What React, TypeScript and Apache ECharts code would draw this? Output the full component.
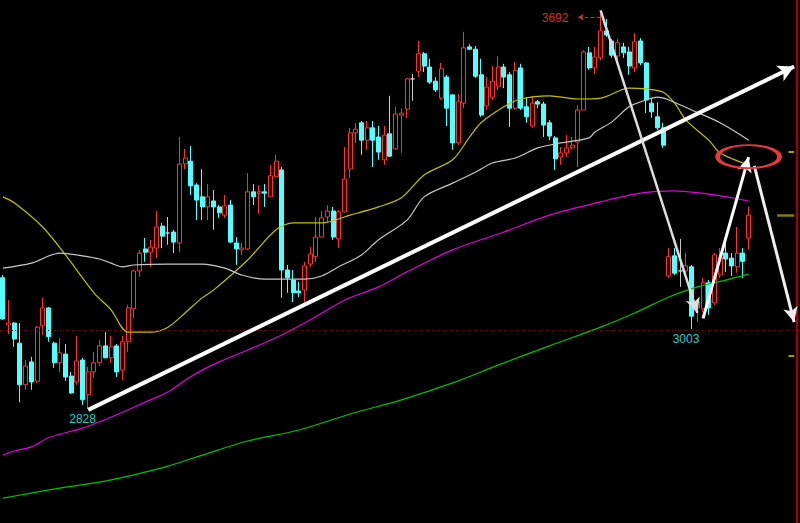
import React, { useEffect, useRef } from "react";
import * as echarts from "echarts";

// 140 trading-day slots (132 candles + empty space on the right)
const categories: string[] = [];
for (let i = 1; i <= 140; i++) categories.push("D" + i);

// [open, close, low, high]
const candles: number[][] = [
  [3115, 3025, 3023, 3121], [3012, 3016, 2992, 3066], [3016, 2981, 2964, 3018], [2972, 2881, 2843, 3016],
  [2881, 2922, 2870, 2935], [2931, 2887, 2870, 2942], [2889, 3007, 2885, 3010], [3010, 3049, 2990, 3071],
  [3049, 2986, 2975, 3051], [2972, 2929, 2918, 2975], [2929, 2951, 2909, 2983], [2948, 2898, 2889, 2970],
  [2900, 2863, 2861, 2909], [2887, 2933, 2881, 2988], [2935, 2848, 2837, 2940], [2859, 2909, 2828, 2920],
  [2909, 2929, 2896, 2953], [2929, 2966, 2922, 2979], [2966, 2940, 2939, 2996], [2940, 2964, 2929, 2988],
  [2966, 2909, 2898, 2970], [2913, 2975, 2891, 2988], [2975, 3049, 2953, 3056], [3047, 3130, 3027, 3132],
  [3130, 3169, 3117, 3176], [3178, 3171, 3150, 3202], [3171, 3182, 3139, 3198], [3180, 3226, 3158, 3261],
  [3228, 3206, 3180, 3235], [3213, 3213, 3187, 3248], [3215, 3193, 3169, 3220], [3191, 3364, 3171, 3423],
  [3364, 3377, 3353, 3397], [3370, 3316, 3296, 3403], [3318, 3285, 3241, 3322], [3292, 3270, 3241, 3353],
  [3270, 3292, 3241, 3320], [3283, 3270, 3220, 3307], [3270, 3257, 3246, 3274], [3252, 3272, 3246, 3296],
  [3274, 3193, 3191, 3285], [3191, 3178, 3143, 3204], [3176, 3180, 3165, 3191], [3178, 3303, 3176, 3344],
  [3303, 3292, 3274, 3320], [3300, 3303, 3255, 3318], [3303, 3300, 3270, 3320], [3292, 3338, 3292, 3362],
  [3336, 3370, 3336, 3384], [3351, 3132, 3071, 3357], [3132, 3115, 3082, 3143], [3110, 3082, 3062, 3132],
  [3086, 3082, 3073, 3106], [3088, 3141, 3062, 3150], [3145, 3167, 3139, 3182], [3161, 3204, 3150, 3248],
  [3204, 3246, 3204, 3261], [3248, 3261, 3237, 3274], [3261, 3204, 3198, 3270], [3200, 3259, 3180, 3263],
  [3259, 3331, 3259, 3401], [3353, 3432, 3333, 3443], [3432, 3440, 3410, 3454], [3454, 3416, 3384, 3458],
  [3416, 3443, 3395, 3458], [3443, 3416, 3357, 3458], [3423, 3390, 3373, 3447], [3373, 3427, 3362, 3447],
  [3430, 3381, 3379, 3513], [3397, 3473, 3395, 3489], [3471, 3475, 3388, 3486], [3484, 3550, 3464, 3552],
  [3550, 3550, 3502, 3561], [3567, 3605, 3554, 3633], [3605, 3578, 3565, 3609], [3576, 3543, 3539, 3594],
  [3545, 3526, 3521, 3554], [3508, 3572, 3504, 3585], [3554, 3486, 3447, 3559], [3515, 3410, 3395, 3517],
  [3410, 3500, 3405, 3517], [3497, 3618, 3486, 3653], [3620, 3615, 3613, 3626], [3615, 3556, 3552, 3622],
  [3559, 3471, 3467, 3594], [3491, 3532, 3482, 3554], [3510, 3545, 3504, 3578], [3534, 3576, 3526, 3600],
  [3576, 3554, 3530, 3583], [3559, 3486, 3445, 3565], [3486, 3569, 3482, 3587], [3574, 3486, 3482, 3583],
  [3489, 3467, 3454, 3510], [3447, 3497, 3443, 3513], [3500, 3495, 3486, 3504], [3495, 3449, 3423, 3500],
  [3454, 3425, 3416, 3460], [3421, 3375, 3351, 3425], [3379, 3388, 3362, 3401], [3388, 3399, 3379, 3427],
  [3399, 3405, 3395, 3423], [3412, 3482, 3357, 3493], [3482, 3609, 3482, 3613], [3607, 3574, 3570, 3620],
  [3574, 3598, 3561, 3620], [3596, 3655, 3591, 3692], [3655, 3646, 3642, 3681], [3633, 3602, 3596, 3637],
  [3600, 3629, 3580, 3637], [3620, 3607, 3596, 3629], [3609, 3578, 3559, 3620], [3574, 3631, 3565, 3650],
  [3633, 3585, 3580, 3639], [3585, 3504, 3475, 3587], [3497, 3478, 3465, 3508], [3467, 3443, 3438, 3499],
  [3443, 3405, 3399, 3454], [3119, 3161, 3115, 3180], [3163, 3125, 3121, 3180], [3130, 3130, 3095, 3200],
  [3130, 3141, 3121, 3169], [3139, 3031, 3003, 3143], [3049, 3062, 3018, 3066], [3047, 3104, 3040, 3115],
  [3104, 3049, 3034, 3110], [3060, 3165, 3055, 3169], [3121, 3160, 3115, 3180], [3169, 3156, 3128, 3189],
  [3158, 3141, 3119, 3169], [3139, 3169, 3126, 3226], [3169, 3151, 3115, 3180], [3202, 3252, 3176, 3270],
];

// moving averages read at sample days: [dayIndex, value]
const maYellow: number[][] = [
  [0, 3292], [2, 3279], [7, 3226], [11, 3165], [16, 3082], [19, 3045], [22, 2996], [26, 2996], [29, 3007],
  [32, 3038], [35, 3071], [37, 3088], [43, 3154], [48, 3220], [51, 3235], [56, 3235], [61, 3252], [66, 3270],
  [70, 3290], [74, 3340], [79, 3373], [82, 3423], [84, 3454], [88, 3489], [91, 3506], [96, 3513], [101, 3506],
  [105, 3508], [110, 3530], [113, 3528], [116, 3521], [118, 3497], [120, 3460], [124, 3416], [126, 3388],
  [130, 3366], [131, 3362],
];
const maGray: number[][] = [
  [0, 3136], [5, 3147], [10, 3169], [14, 3163], [17, 3156], [19, 3147], [21, 3139], [23, 3143], [29, 3145],
  [35, 3145], [39, 3136], [42, 3121], [46, 3112], [53, 3112], [56, 3119], [59, 3139], [63, 3165], [66, 3198],
  [71, 3241], [74, 3292], [79, 3322], [83, 3346], [86, 3366], [90, 3377], [94, 3399], [98, 3410], [103, 3421],
  [104, 3434], [107, 3456], [110, 3489], [113, 3504], [115, 3510], [117, 3504], [121, 3482], [126, 3454],
  [131, 3416],
];
const maMagenta: number[][] = [
  [0, 2727], [2, 2736], [5, 2745], [8, 2765], [11, 2776], [14, 2786], [17, 2800], [21, 2821], [25, 2843],
  [29, 2865], [32, 2891], [35, 2913], [38, 2931], [43, 2957], [49, 2990], [54, 3023], [60, 3066], [66, 3095],
  [71, 3128], [79, 3176], [88, 3215], [96, 3252], [105, 3281], [112, 3300], [118, 3305], [124, 3298],
  [128, 3290], [131, 3283],
];
const maGreen: number[][] = [
  [0, 2633], [5, 2644], [11, 2657], [17, 2668], [23, 2684], [29, 2703], [35, 2727], [43, 2758], [52, 2782],
  [61, 2817], [70, 2848], [79, 2885], [87, 2924], [96, 2966], [105, 3007], [111, 3038], [117, 3073],
  [122, 3095], [127, 3110], [131, 3123],
];

const highLabel = "3692";
const lowLabel = "2828";
const recentLowLabel = "3003";

export default function App() {
  const ref = useRef<HTMLDivElement>(null);
  useEffect(() => {
    document.body.style.margin = "0";
    document.body.style.background = "#000";
    const chart = echarts.init(ref.current!, null, { renderer: "svg" });
    const white = "#ffffff";
    const arrowEnd = (coord: number[], size: number[]) => ({ coord, symbol: "arrow", symbolSize: size });
    chart.setOption({
      animation: false,
      backgroundColor: "#000000",
      grid: { left: 0, right: 3, top: 0, bottom: 0 },
      xAxis: { type: "category", data: categories, show: false, boundaryGap: true },
      yAxis: {
        type: "value",
        min: 2578.6,
        max: 3722.6,
        position: "right",
        axisLine: { show: true, lineStyle: { color: "#e00000", width: 1.5 } },
        axisTick: { show: false },
        axisLabel: { show: false },
        splitLine: { show: false },
      },
      series: [
        {
          type: "candlestick",
          data: candles,
          barWidth: 4.5,
          clip: false,
          z: 2,
          itemStyle: {
            color: "#000000",
            color0: "#54ffff",
            borderColor: "#ff3232",
            borderColor0: "#54ffff",
            borderColorDoji: "#c8c8c8",
            borderWidth: 1,
          },
          markLine: {
            silent: true,
            symbol: ["none", "none"],
            label: { show: false },
            emphasis: { disabled: true },
            data: [
              { yAxis: 3001, lineStyle: { color: "#8a0000", type: [1, 2], width: 1 } },
              [
                { coord: [15.3, 2826], lineStyle: { color: white, width: 4, type: "solid" } },
                arrowEnd([139, 3577], [13, 16]),
              ],
              [
                { coord: [105.4, 3700], lineStyle: { color: "#dddddd", width: 2.5, type: "solid" } },
                arrowEnd([121.75, 3038], [11, 15]),
              ],
              [
                { coord: [122.5, 3026], lineStyle: { color: white, width: 3, type: "solid" } },
                arrowEnd([131.2, 3379], [11, 15]),
              ],
              [
                { coord: [131.6, 3360], lineStyle: { color: "#eeeeee", width: 3, type: "solid" } },
                arrowEnd([138.6, 3018], [11, 15]),
              ],
              [
                { coord: [104.9, 3685], lineStyle: { color: "#c83232", width: 1, type: "dashed" } },
                arrowEnd([100.5, 3685], [5, 6]),
              ],
              [
                { coord: [137.6, 3390], lineStyle: { color: "#d8d800", width: 1.5, type: "solid" } },
                { coord: [139, 3390] },
              ],
              [
                { coord: [136, 3252], lineStyle: { color: "#808000", width: 2.5, type: "solid" } },
                { coord: [139, 3252] },
              ],
              [
                { coord: [137.6, 2944], lineStyle: { color: "#d8d800", width: 1.5, type: "solid" } },
                { coord: [139, 2944] },
              ],
            ],
          },
          markPoint: {
            silent: true,
            emphasis: { disabled: true },
            data: [
              {
                coord: [130.8, 3380],
                symbol: "path://M0 50A50 50 0 1 1 100 50A50 50 0 1 1 0 50Z",
                symbolSize: [62, 23],
                itemStyle: { color: "rgba(0,0,0,0)", borderColor: "#e83a3a", borderWidth: 3 },
                label: { show: false },
              },
              {
                coord: [97.3, 3683],
                symbol: "circle",
                symbolSize: 1,
                itemStyle: { color: "rgba(0,0,0,0)" },
                label: { show: true, formatter: highLabel, color: "#d03030", fontSize: 12, fontFamily: "Liberation Sans" },
              },
              {
                coord: [14.4, 2806],
                symbol: "circle",
                symbolSize: 1,
                itemStyle: { color: "rgba(0,0,0,0)" },
                label: { show: true, formatter: lowLabel, color: "#30c8c8", fontSize: 12, fontFamily: "Liberation Sans" },
              },
              {
                coord: [120.35, 2981],
                symbol: "circle",
                symbolSize: 1,
                itemStyle: { color: "rgba(0,0,0,0)" },
                label: { show: true, formatter: recentLowLabel, color: "#30c8c8", fontSize: 12, fontFamily: "Liberation Sans" },
              },
            ],
          },
        },
        { type: "line", data: maYellow, symbol: "none", smooth: 0.3, z: 3, silent: true, lineStyle: { color: "#c0c000", width: 1.2 } },
        { type: "line", data: maGray, symbol: "none", smooth: 0.3, z: 3, silent: true, lineStyle: { color: "#c8c8c8", width: 1.2 } },
        { type: "line", data: maMagenta, symbol: "none", smooth: 0.3, z: 3, silent: true, lineStyle: { color: "#e000e0", width: 1.2 } },
        { type: "line", data: maGreen, symbol: "none", smooth: 0.3, z: 3, silent: true, lineStyle: { color: "#00c000", width: 1.2 } },
      ],
    });
    return () => chart.dispose();
  }, []);
  return (
    <div
      ref={ref}
      style={{ position: "absolute", left: 0, top: 0, width: 800, height: 523, background: "#000" }}
    />
  );
}
